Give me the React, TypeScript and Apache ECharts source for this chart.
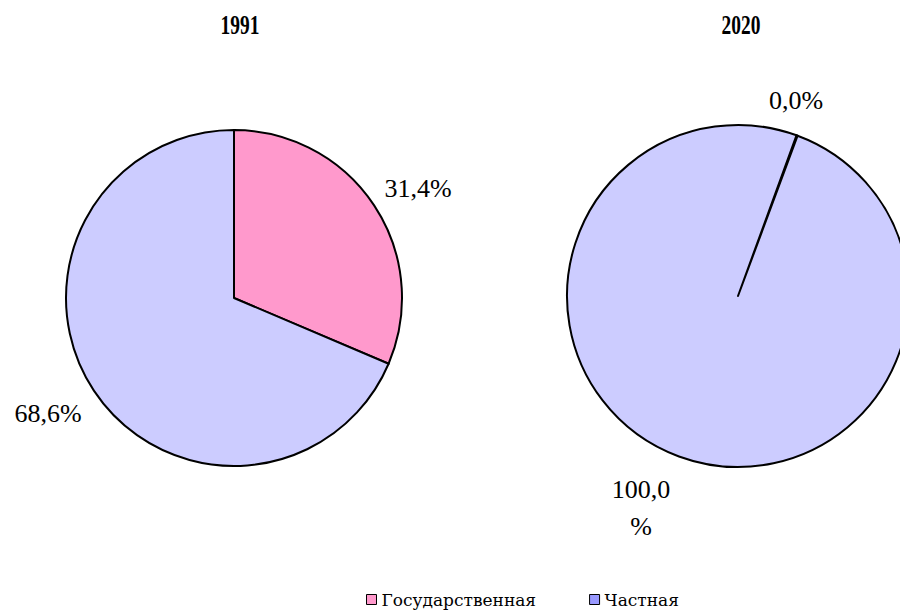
import React, { useEffect, useRef } from "react";
import * as echarts from "echarts";

const categories = ["Государственная", "Частная"];
const years = ["1991", "2020"];
const values1991 = [31.4, 68.6];
const values2020 = [0.0, 100.0];
const sliceColors = ["#ff99cc", "#ccccff"];
const legendColors = ["#ff99cc", "#9999ff"];

const fmt = (v: number) => {
  const s = v.toFixed(1).replace(".", ",");
  return v >= 100 ? s + "\n%" : s + "%";
};

export default function App() {
  const ref = useRef<HTMLDivElement>(null);
  useEffect(() => {
    if (!ref.current) return;
    document.body.style.margin = "0";
    document.body.style.overflow = "hidden";
    const chart = echarts.init(ref.current, null, { renderer: "svg" });
    const labelPos: Record<string, [number, number][]> = {
      "0": [[418, 188], [48, 413]],
      "1": [[796, 100], [641, 508]],
    };
    const mkSeries = (idx: number, vals: number[], center: [number, number], radius: number, startAngle: number) => ({
      type: "pie",
      name: years[idx],
      center,
      radius,
      startAngle,
      clockwise: true,
      minAngle: 0.4,
      avoidLabelOverlap: false,
      minShowLabelAngle: 0,
      label: {
        show: true,
        formatter: (p: any) => fmt(p.value),
        fontFamily: "Liberation Serif",
        fontSize: 26,
        lineHeight: 37,
        color: "#000",
      },
      labelLine: { show: false },
      labelLayout: (p: any) => {
        const pos = labelPos[String(idx)][p.dataIndex];
        return { x: pos[0], y: pos[1], align: "center", verticalAlign: "middle" };
      },
      itemStyle: { borderColor: "#000", borderWidth: 2 },
      emphasis: { disabled: true },
      data: vals.map((v, i) => ({ name: categories[i], value: v, itemStyle: { color: sliceColors[i] } })),
    });
    chart.setOption({
      animation: false,
      backgroundColor: "#fff",
      graphic: [
        {
          type: "text",
          x: 240,
          y: 25,
          scaleX: 0.72,
          style: { text: years[0], font: "bold 27px Liberation Serif", fill: "#000", textAlign: "center", textVerticalAlign: "middle" },
        },
        {
          type: "text",
          x: 741,
          y: 25,
          scaleX: 0.72,
          style: { text: years[1], font: "bold 27px Liberation Serif", fill: "#000", textAlign: "center", textVerticalAlign: "middle" },
        },
      ],
      legend: {
        left: 366,
        top: 591,
        padding: 0,
        itemWidth: 10,
        itemHeight: 10,
        itemGap: 53,
        icon: "rect",
        selectedMode: false,
        textStyle: { fontFamily: "DejaVu Serif", fontSize: 17, color: "#000" },
        data: categories.map((c, i) => ({ name: c, itemStyle: { color: legendColors[i], borderColor: "#000", borderWidth: 1 } })),
      },
      series: [
        mkSeries(0, values1991, [234, 298], 168, 90),
        mkSeries(1, values2020, [738, 296], 171, 70),
      ],
    });
    return () => chart.dispose();
  }, []);
  return <div ref={ref} style={{ position: "fixed", left: 0, top: 0, width: 900, height: 611 }} />;
}
